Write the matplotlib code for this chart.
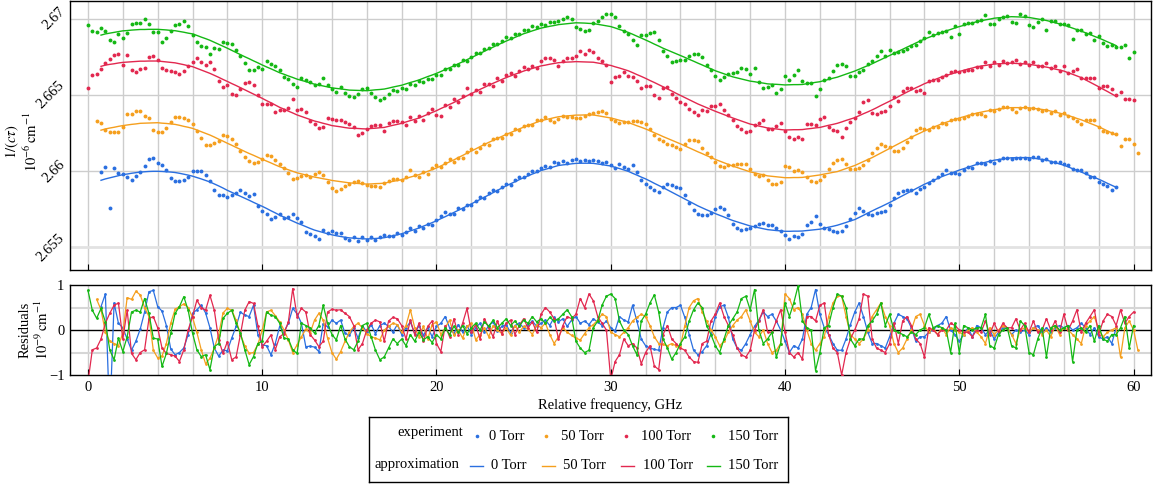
import numpy as np
import matplotlib
matplotlib.use('Agg')
import matplotlib.pyplot as plt

plt.rcParams['font.family'] = ['Liberation Serif', 'DejaVu Serif']
plt.rcParams['mathtext.fontset'] = 'stix'
FS = 10.5

# ---------------- data ----------------
# frequency samples every 0.25 GHz; values below in units of 1e-11 cm^-1
STEP = 0.25
BASE = 2.65            # 1e-6 cm^-1
FIT_LO, FIT_HI = 0.75, 59.0

series_names = ['0 Torr', '50 Torr', '100 Torr', '150 Torr']
series_colors = ['#2a6fe0', '#f59f1e', '#e2284f', '#14b814']
series_start = [0.75, 0.5, 0.0, 0.0]

# fitted curve (approximation), offset from 2.65e-6 cm^-1, in 1e-11 cm^-1
fit_0 = [941,
 950, 957, 964, 971, 978, 982, 987, 991, 995, 997, 999, 1000, 1000, 999, 997, 995,
 992, 987, 981, 975, 968, 959, 950, 940, 930, 917, 904, 890, 875, 862, 849, 836,
 823, 810, 796, 783, 770, 756, 741, 727, 712, 699, 686, 673, 660, 649, 637, 625,
 614, 606, 598, 590, 583, 577, 572, 567, 563, 561, 559, 557, 556, 557, 559, 561,
 564, 570, 577, 583, 590, 599, 609, 618, 628, 640, 651, 663, 675, 689, 702, 716,
 730, 744, 758, 772, 786, 801, 815, 830, 845, 860, 875, 890, 905, 918, 931, 945,
 958, 970, 982, 993, 1005, 1013, 1021, 1030, 1038, 1042, 1045, 1049, 1052, 1053, 1053, 1053,
 1052, 1048, 1044, 1039, 1035, 1026, 1018, 1009, 1000, 987, 975, 962, 950, 936, 921, 907,
 893, 878, 863, 848, 833, 818, 803, 788, 773, 760, 747, 735, 722, 711, 700, 688,
 677, 668, 659, 650, 641, 635, 629, 623, 617, 614, 611, 609, 606, 606, 607, 607,
 608, 611, 614, 617, 620, 626, 633, 639, 646, 655, 664, 674, 683, 697, 711, 726,
 740, 754, 767, 781, 795, 810, 825, 840, 855, 870, 885, 900, 915, 927, 940, 952,
 965, 976, 986, 997, 1008, 1017, 1026, 1036, 1045, 1052, 1059, 1066, 1073, 1077, 1081, 1085,
 1089, 1089, 1090, 1090, 1090, 1086, 1082, 1078, 1074, 1065, 1057, 1048, 1040, 1029, 1017, 1006,
 995, 983, 971, 960, 948, 935, 921, 908,
 895]

fit_50 = [1262, 1270,
 1278, 1284, 1289, 1295, 1300, 1304, 1308, 1311, 1315, 1316, 1317, 1318, 1319, 1316, 1314, 1311,
 1308, 1302, 1295, 1289, 1282, 1271, 1260, 1249, 1238, 1225, 1211, 1198, 1184, 1171, 1157, 1144,
 1130, 1117, 1105, 1092, 1079, 1067, 1055, 1042, 1030, 1020, 1010, 1000, 990, 983, 976, 969,
 962, 957, 951, 946, 940, 936, 932, 928, 924, 922, 920, 918, 916, 917, 919, 920,
 922, 928, 934, 939, 945, 953, 962, 970, 978, 989, 1000, 1011, 1022, 1035, 1049, 1062,
 1075, 1090, 1104, 1119, 1133, 1147, 1162, 1176, 1190, 1203, 1216, 1229, 1242, 1254, 1266, 1278,
 1290, 1301, 1311, 1322, 1332, 1339, 1345, 1352, 1358, 1361, 1364, 1366, 1369, 1369, 1370, 1370,
 1370, 1365, 1360, 1355, 1350, 1343, 1335, 1328, 1320, 1310, 1299, 1289, 1278, 1266, 1253, 1241,
 1228, 1216, 1204, 1192, 1180, 1167, 1154, 1141, 1128, 1116, 1103, 1091, 1078, 1067, 1056, 1045,
 1034, 1025, 1015, 1006, 996, 990, 983, 977, 970, 967, 964, 961, 958, 958, 959, 959,
 960, 964, 968, 972, 976, 982, 987, 993, 998, 1008, 1018, 1028, 1038, 1051, 1064, 1077,
 1090, 1105, 1120, 1135, 1150, 1165, 1180, 1195, 1210, 1224, 1238, 1251, 1265, 1277, 1289, 1300,
 1312, 1322, 1331, 1341, 1350, 1358, 1366, 1374, 1382, 1388, 1394, 1399, 1405, 1408, 1412, 1415,
 1418, 1418, 1418, 1417, 1417, 1413, 1410, 1406, 1402, 1395, 1389, 1382, 1375, 1366, 1357, 1347,
 1338, 1327, 1315, 1304, 1292, 1279, 1265, 1252, 1238, 1224, 1209, 1195,
 1180, 1165]

fit_100 = [1665, 1673, 1681, 1689,
 1697, 1702, 1706, 1711, 1715, 1717, 1719, 1721, 1723, 1723, 1724, 1724, 1724, 1721, 1718, 1715,
 1712, 1706, 1700, 1693, 1687, 1676, 1665, 1654, 1643, 1630, 1617, 1603, 1590, 1576, 1563, 1549,
 1535, 1521, 1507, 1493, 1479, 1464, 1450, 1435, 1420, 1408, 1395, 1383, 1370, 1360, 1350, 1340,
 1330, 1323, 1315, 1308, 1300, 1296, 1292, 1287, 1283, 1282, 1281, 1279, 1278, 1281, 1283, 1286,
 1288, 1295, 1302, 1308, 1315, 1324, 1333, 1341, 1350, 1362, 1374, 1386, 1398, 1412, 1425, 1439,
 1452, 1467, 1481, 1496, 1510, 1524, 1538, 1551, 1565, 1578, 1590, 1603, 1615, 1626, 1637, 1647,
 1658, 1667, 1675, 1684, 1692, 1697, 1703, 1708, 1713, 1715, 1717, 1718, 1720, 1719, 1718, 1717,
 1716, 1711, 1706, 1700, 1695, 1686, 1678, 1669, 1660, 1648, 1635, 1623, 1610, 1596, 1583, 1569,
 1555, 1541, 1527, 1512, 1498, 1484, 1470, 1456, 1442, 1430, 1418, 1406, 1394, 1383, 1372, 1361,
 1350, 1340, 1330, 1320, 1310, 1304, 1297, 1291, 1284, 1281, 1278, 1274, 1271, 1272, 1273, 1273,
 1274, 1278, 1281, 1285, 1288, 1295, 1302, 1308, 1315, 1324, 1334, 1343, 1352, 1365, 1378, 1390,
 1403, 1417, 1432, 1446, 1460, 1475, 1490, 1505, 1520, 1534, 1548, 1561, 1575, 1586, 1598, 1609,
 1620, 1629, 1638, 1646, 1655, 1663, 1671, 1678, 1686, 1691, 1695, 1700, 1704, 1706, 1707, 1709,
 1710, 1708, 1707, 1705, 1703, 1698, 1694, 1689, 1684, 1678, 1671, 1665, 1658, 1647, 1637, 1626,
 1615, 1600, 1585, 1570, 1555, 1539, 1524, 1508, 1492, 1476, 1460, 1444,
 1428]

fit_150 = [1870, 1878, 1886, 1894,
 1902, 1907, 1912, 1917, 1922, 1924, 1927, 1929, 1931, 1931, 1932, 1932, 1932, 1930, 1928, 1925,
 1923, 1918, 1913, 1907, 1902, 1892, 1881, 1871, 1860, 1847, 1834, 1821, 1808, 1794, 1780, 1766,
 1752, 1739, 1725, 1712, 1698, 1685, 1673, 1660, 1647, 1637, 1626, 1616, 1605, 1597, 1589, 1580,
 1572, 1566, 1560, 1554, 1548, 1544, 1541, 1537, 1533, 1532, 1531, 1530, 1529, 1532, 1535, 1537,
 1540, 1546, 1553, 1559, 1565, 1574, 1583, 1591, 1600, 1611, 1622, 1632, 1643, 1655, 1668, 1680,
 1692, 1706, 1719, 1733, 1746, 1760, 1774, 1788, 1802, 1815, 1829, 1842, 1855, 1867, 1879, 1891,
 1903, 1912, 1922, 1931, 1940, 1946, 1952, 1957, 1963, 1966, 1969, 1972, 1975, 1974, 1973, 1971,
 1970, 1965, 1960, 1955, 1950, 1941, 1931, 1922, 1912, 1900, 1887, 1875, 1862, 1849, 1835, 1822,
 1808, 1796, 1784, 1772, 1760, 1748, 1735, 1723, 1710, 1698, 1685, 1673, 1660, 1650, 1640, 1630,
 1620, 1613, 1606, 1599, 1592, 1588, 1583, 1579, 1574, 1572, 1571, 1569, 1567, 1568, 1569, 1569,
 1570, 1575, 1579, 1584, 1588, 1596, 1603, 1611, 1618, 1628, 1638, 1648, 1658, 1670, 1682, 1694,
 1706, 1720, 1733, 1747, 1760, 1774, 1788, 1801, 1815, 1828, 1842, 1855, 1868, 1879, 1890, 1901,
 1912, 1922, 1931, 1941, 1950, 1958, 1966, 1974, 1982, 1988, 1994, 1999, 2005, 2008, 2010, 2013,
 2015, 2014, 2013, 2011, 2010, 2005, 2000, 1995, 1990, 1983, 1975, 1968, 1960, 1950, 1940, 1930,
 1920, 1909, 1898, 1886, 1875, 1863, 1850, 1838, 1825, 1812, 1799, 1785,
 1772]

# residuals (experiment - approximation), in 1e-11 cm^-1 (= 0.01 x 1e-9 cm^-1)
res_0 = [52,
 80, -200, 60, 15, 5, -20, -45, -25, 2, 40, 85, 88, 52, 42, 10, -42,
 -55, -50, -40, -10, 37, 45, 55, 38, 5, -40, -58, -45, -46, -18, 8, 40,
 33, 30, 55, -10, -33, -35, -55, -30, 8, -4, 15, 48, 36, 15, -37, -36,
 -38, -48, 14, 7, 22, 15, 22, -7, -12, 5, -18, 10, -5, 12, -8, 10,
 15, 8, -5, 12, -10, 5, 18, -8, 10, -12, 6, -15, 8, 15, 30, 5,
 -8, 12, -5, 10, -10, 5, 15, -5, 10, 18, -3, 8, 12, -6, 10, 15,
 5, 12, 20, 8, 15, 22, 10, 28, 18, 25, 8, 22, 30, 15, 20, 12,
 25, 18, 10, 20, 5, -2, 30, 22, 18, 55, 20, -20, -35, -40, -43, -45,
 5, 40, 50, 50, 55, 28, -10, -45, -55, -48, -35, -8, 30, 52, 55, 28,
 -20, -40, -45, -30, -10, 8, 22, 40, 30, 35, 20, 0, -25, -50, -35, -40,
 -20, 35, 50, 90, 35, 5, -10, -30, -45, -45, -20, 12, 40, 60, 30, -5,
 -30, -30, -35, -40, -15, 15, 35, 30, 25, 5, -25, -15, -15, -5, 0, 10,
 15, 30, 0, -10, -25, -10, 5, -15, 10, 5, -10, 0, -20, -5, 5, 5,
 -10, 0, -5, 0, -10, 5, 10, -5, 5, -5, 5, 10, 5, 10, 0, 5,
 15, 5, -10, 5, -15, -20, -15, -30,
 5]

res_50 = [68, 45,
 -5, -25, -30, -35, -7, 72, 68, 86, 78, 50, 30, -45, -62, -58, -30, 15,
 46, 52, 58, 50, 28, -5, -44, -75, -63, -40, -10, 38, 48, 44, 22, -10,
 -35, -52, -50, -32, 0, 40, 44, 32, 18, 0, -22, -50, -33, -15, 2, -7,
 22, 37, 22, -18, -50, -65, -48, -25, -5, 8, 15, 5, -8, -15, -18, -22,
 0, 8, 15, 12, -5, 10, 45, 5, -15, 8, -20, 12, 18, -10, 5, 22,
 -12, 0, -18, 8, 15, -22, -10, 5, -15, 10, 0, -8, 5, -12, 10, -5,
 8, 2, -10, 12, 5, 15, -10, -30, -15, 5, -5, -12, -18, -22, -8, 5,
 12, 22, 35, 30, -5, -10, -15, -5, 5, 20, 28, 35, 30, 10, -15, -30,
 -32, -35, -30, -35, -35, 10, 50, 65, 70, 40, 20, 0, -15, -35, -25, -5,
 10, 22, 30, 45, 20, -5, -15, 0, -30, -50, -45, -30, 80, 70, 45, 50,
 35, 0, -30, -45, -30, -15, 30, 60, 75, 75, 30, -10, -20, -30, -20, 0,
 30, 45, 60, 30, 10, -30, -50, -40, -20, 0, 30, 35, 10, -5, 5, -10,
 5, -10, 5, 0, -5, -10, 0, 5, -5, -15, -30, 5, -10, 0, 10, 5,
 -10, -30, 0, 5, -5, 5, 0, -10, 0, -15, 10, -10, 5, 0, -10, -20,
 -30, 10, 20, 30, 0, -15, -5, 0, 5, -60, 5, 20,
 0, -45]

res_100 = [-116, -44, -40, -20,
 15, 37, 55, 60, -20, 44, -52, -66, -50, -44, 25, 30, 5, -40, -52, -55,
 -58, -70, -44, 0, 30, 66, 50, 44, 77, 44, -22, -52, -26, -66, -60, -10,
 44, 63, 59, 10, -37, -25, -11, -44, -15, -8, 18, 92, 30, 48, 40, -10,
 -22, -37, -25, 40, 46, 44, 45, 37, 30, 10, -44, -30, 0, 15, 22, 18,
 -25, 20, 28, 25, 10, -20, 22, -10, 15, -25, 8, 20, -30, -48, 10, -15,
 25, -10, 15, 48, -5, 12, -20, 25, 5, -15, 20, -8, 15, 22, -10, 10,
 25, 5, 18, -5, 35, 50, 40, 25, -20, 10, 30, 25, 35, 70, 50, 80,
 65, 30, 15, 0, -110, -70, -55, -20, -35, -30, -40, -75, -50, -35, -80, -88,
 -10, 10, -20, -30, -40, -45, -60, -70, -72, -30, -25, 20, 35, 60, 30, 10,
 -10, -40, -55, -60, -45, 0, 20, 45, -5, -5, 20, 45, -5, -50, -60, -50,
 -65, 30, 30, 20, 55, 60, -10, -40, -50, -100, -50, -20, 0, 25, 80, 75,
 -20, -40, -45, -50, -30, 15, -30, 20, 30, 10, -20, -30, -60, 5, 0, -10,
 0, 0, 15, 10, 0, -5, -5, -15, 0, -5, 20, -10, 15, -5, 15, 5,
 5, 25, 0, 15, -5, 20, -5, 0, 25, 0, 20, -5, 35, 0, 20, 45,
 -5, 15, 30, 45, -10, 20, 35, 30, 10, 45, 15, 30,
 40]

res_150 = [88, 44, 26, 48,
 18, -44, -66, -18, -48, -15, 40, 44, 40, 70, 37, -18, -20, -81, -52, -7,
 37, 52, 74, 44, -7, -44, -59, -55, -88, -37, -30, 26, 37, 44, 15, -7,
 -44, -77, -59, -30, -25, 40, 33, 30, 15, -18, -20, -44, -52, 15, 10, 5,
 -7, 10, 55, 15, -10, -22, 10, -20, -37, -44, -25, 10, 15, -15, -45, -66,
 -60, -40, -20, -30, -20, -35, -10, -25, -5, -22, -15, -28, -10, -20, 5, -10,
 8, -5, 10, -8, 5, 15, 0, 18, 8, 22, 5, 15, 25, 10, 20, 8,
 22, 15, 30, 18, 25, 15, 28, 20, 25, 35, 45, 30, -25, -40, -50, -45,
 5, 20, 55, 75, 80, 70, 20, 0, -10, -35, -55, 20, 35, 60, 78, 40,
 -20, -40, -65, -50, -30, -15, 20, 45, 60, 50, 10, -10, -35, -50, -20, 10,
 25, 40, 70, 75, 45, 90, 0, -30, -20, -5, -60, -30, 60, 30, 60, 98,
 20, 5, 0, -90, -50, 5, 10, 50, 80, 75, 50, -20, -35, -20, -20, 10,
 20, 35, 60, 10, 35, 0, -5, -10, -15, -5, -10, 0, 5, 35, 5, 10,
 5, 0, -50, 15, -50, 10, 5, 0, 5, 5, 35, -35, -40, -10, 0, 5,
 -35, -40, 20, 10, -50, -55, -20, 5, -60, 5, 10, 0, 5, 10, -70, 0,
 5, -5, 10, -25, 10, -20, -25, -10, -10, 5, 30, -40,
 10]

fits = [fit_0, fit_50, fit_100, fit_150]
resids = [res_0, res_50, res_100, res_150]

# ---------------- figure ----------------
W, H = 1158, 484
fig = plt.figure(figsize=(W / 100, H / 100), dpi=100)

def fx(px):
    return px / W

def fy(py):
    return 1 - py / H

L, R = 70, 1151
ax1 = fig.add_axes([fx(L), fy(270), fx(R - L), (270 - 1) / H])
ax2 = fig.add_axes([fx(L), fy(375), fx(R - L), (375 - 285) / H])

XLIM = (-1.03, 61.0)
grid_x = np.arange(0, 61, 2)
gcol = '#cdcdcd'

for ax in (ax1, ax2):
    ax.set_xlim(*XLIM)
    for gx in grid_x:
        ax.axvline(gx, color=gcol, lw=1.0, zorder=0)
    for s in ax.spines.values():
        s.set_linewidth(1.0)
        s.set_color('black')
    ax.tick_params(direction='in', length=4, width=0.8, labelsize=FS,
                   top=False, right=False)
    ax.set_xticks(np.arange(0, 61, 10))

ax1.set_ylim(2.65352, 2.67118)
yt = [2.655, 2.66, 2.665, 2.67]
ax1.set_yticks(yt)
ax1.set_yticklabels(['2.655', '2.66', '2.665', '2.67'], rotation=45)
for lab in ax1.get_yticklabels():
    lab.set_va('center')
for v in yt:
    ax1.axhline(v, color='#e2e2e2' if v == 2.655 else gcol,
                lw=2.0 if v == 2.655 else 1.0, zorder=0)
ax1.tick_params(axis='x', labelbottom=False)
ax1.tick_params(axis='y', length=0, pad=2)

ax2.set_ylim(-1, 1)
ax2.set_yticks([-1, 0, 1])
ax2.set_yticklabels(['\u22121', '0', '1'])
ax2.tick_params(axis='y', length=0, pad=4)
ax2.tick_params(axis='x', pad=4)
for v in (-0.5, 0.5):
    ax2.axhline(v, color='#d6d6d6', lw=1.5, zorder=0)
ax2.axhline(0, color='black', lw=1.0, zorder=1)

for name, col, start, fit_d, res_d in zip(series_names, series_colors,
                                           series_start, fits, resids):
    fit_d = np.asarray(fit_d, float)
    res_d = np.asarray(res_d, float)
    n = min(len(fit_d), len(res_d))
    fit_d, res_d = fit_d[:n], res_d[:n]
    x = start + STEP * np.arange(n)
    fit_v = BASE + fit_d * 1e-5
    exp_v = BASE + (fit_d + res_d) * 1e-5
    sel = (x >= FIT_LO - 1e-9) & (x <= FIT_HI + 1e-9)
    ax1.plot(x, exp_v, 'o', ms=2.8, mew=0, color=col, zorder=3)
    ax1.plot(x[sel], fit_v[sel], '-', lw=1.0, color=col, zorder=4)
    ax2.plot(x, res_d / 100.0, '-o', lw=0.9, ms=2.0, mew=0, color=col, zorder=3)

# axis labels
fig.text(fx(12), fy(142), r'$1/(c\tau)$', rotation=90, ha='center', va='center', fontsize=FS)
fig.text(fx(31), fy(142), r'$10^{-6}\,\mathrm{cm}^{-1}$', rotation=90, ha='center', va='center', fontsize=FS)
fig.text(fx(25), fy(330), 'Residuals', rotation=90, ha='center', va='center', fontsize=FS)
fig.text(fx(42), fy(330), r'$10^{-9}\,\mathrm{cm}^{-1}$', rotation=90, ha='center', va='center', fontsize=FS)
fig.text(fx(610.5), fy(405), 'Relative frequency, GHz', ha='center', va='center', fontsize=FS)

# legend box (drawn in pixel coordinates)
LX0, LX1, LY0, LY1 = 369, 788.3, 417.3, 482.3
axl = fig.add_axes([fx(LX0), fy(LY1), fx(LX1 - LX0), (LY1 - LY0) / H])
axl.set_xlim(LX0, LX1)
axl.set_ylim(LY1, LY0)
axl.set_xticks([])
axl.set_yticks([])
for s in axl.spines.values():
    s.set_linewidth(1.0)
    s.set_color('black')

row1_y, row2_y = 436.5, 466.0
axl.text(463, 433, 'experiment', ha='right', va='center', fontsize=FS)
axl.text(459, 464.5, 'approximation', ha='right', va='center', fontsize=FS)
mark_x = [477.3, 546.0, 625.7, 712.7]
lab1_x = [489.3, 561.0, 641.0, 728.3]
line_x = [(470.0, 483.3), (541.7, 555.0), (621.0, 634.3), (706.7, 720.0)]
lab2_x = [491.0, 563.3, 642.7, 728.3]
for i, (name, col) in enumerate(zip(series_names, series_colors)):
    axl.plot([mark_x[i]], [row1_y], 'o', ms=2.6, mew=0, color=col)
    axl.text(lab1_x[i], row1_y, name, ha='left', va='center', fontsize=FS)
    axl.plot(list(line_x[i]), [row2_y, row2_y], '-', lw=1.0, color=col)
    axl.text(lab2_x[i], row2_y, name, ha='left', va='center', fontsize=FS)

fig.savefig('out.png', dpi=100)
